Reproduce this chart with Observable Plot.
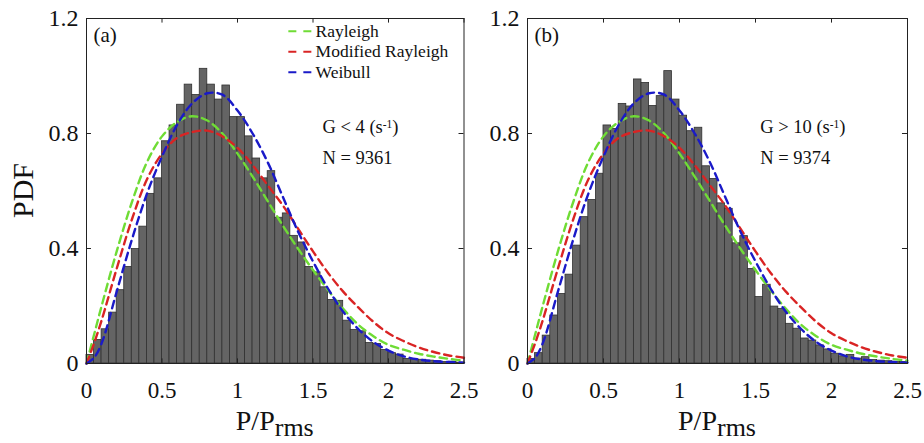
<!DOCTYPE html>
<html><head><meta charset="utf-8">
<script src="https://cdn.jsdelivr.net/npm/d3@7"></script>
<script src="https://cdn.jsdelivr.net/npm/@observablehq/plot@0.6"></script>
<style>
body{margin:0;background:#fff;}
#wrap{position:relative;width:924px;height:443px;overflow:hidden;font-family:"Liberation Serif","Times New Roman",serif;}
#wrap svg{position:absolute;top:0;}
</style></head><body><div id="wrap"></div>
<script>
// ---------- data ----------
const binWidth = 0.05;
const histA = [0.03,0.082,0.119,0.177,0.255,0.336,0.398,0.476,0.59,0.644,
  0.773,0.828,0.90,0.97,0.934,1.025,0.97,0.918,0.967,0.857,
  0.857,0.79,0.713,0.644,0.669,0.507,0.522,0.444,0.421,0.336,
  0.317,0.265,0.221,0.218,0.149,0.117,0.112,0.071,0.068,0.047,
  0.036,0.031,0.016,0.014,0.013,0.010,0.008,0.005,0.006,0.003];
const histB = [0.016,0.036,0.097,0.167,0.242,0.309,0.41,0.509,0.569,0.66,
  0.828,0.816,0.903,0.894,0.988,0.976,0.896,0.93,1.017,0.918,
  0.862,0.808,0.82,0.686,0.642,0.557,0.538,0.418,0.443,0.329,
  0.231,0.274,0.198,0.19,0.138,0.121,0.087,0.08,0.063,0.049,
  0.034,0.025,0.03,0.017,0.022,0.012,0.01,0.008,0.006,0.005];
const curveX = [0,0.05,0.1,0.2,0.3,0.4,0.5,0.6,0.7,0.8,0.9,1.0,1.1,1.2,1.3,1.4,1.5,1.6,1.7,1.8,1.9,2.0,2.1,2.2,2.3,2.4,2.5];
const rayleighA = [0,0.10,0.20,0.39,0.56,0.70,0.79,0.84,0.86,0.845,0.80,0.73,0.65,0.565,0.48,0.40,0.325,0.255,0.19,0.135,0.095,0.065,0.048,0.034,0.024,0.016,0.01];
const modRayleighA = [0,0.07,0.15,0.33,0.50,0.64,0.73,0.785,0.805,0.81,0.79,0.75,0.69,0.62,0.55,0.47,0.39,0.315,0.25,0.195,0.145,0.105,0.078,0.056,0.04,0.028,0.02];
const weibullA = [0,0.02,0.07,0.25,0.43,0.59,0.72,0.83,0.905,0.94,0.935,0.88,0.80,0.70,0.58,0.46,0.355,0.26,0.18,0.12,0.075,0.045,0.025,0.014,0.008,0.005,0.003];
const rayleighB = [0,0.10,0.20,0.39,0.56,0.70,0.79,0.84,0.86,0.845,0.80,0.73,0.65,0.565,0.48,0.40,0.325,0.255,0.19,0.135,0.095,0.065,0.048,0.034,0.024,0.016,0.01];
const modRayleighB = [0,0.07,0.15,0.33,0.50,0.64,0.73,0.785,0.805,0.81,0.79,0.75,0.69,0.62,0.55,0.47,0.39,0.315,0.25,0.195,0.145,0.105,0.078,0.056,0.04,0.028,0.02];
const weibullB = [0,0.02,0.07,0.25,0.43,0.59,0.72,0.83,0.905,0.94,0.935,0.88,0.80,0.70,0.58,0.46,0.355,0.26,0.18,0.12,0.075,0.045,0.025,0.014,0.008,0.005,0.003];
const seriesNames = ["Rayleigh","Modified Rayleigh","Weibull"];
const seriesColors = ["#6fdc35","#d92424","#1a1ac8"];
const xTicks = [0,0.5,1,1.5,2,2.5];
const xTickLabels = ["0","0.5","1","1.5","2","2.5"];
const yTicks = [0,0.4,0.8,1.2];
const yTickLabels = ["0","0.4","0.8","1.2"];
const panelLabels = ["(a)","(b)"];
const gLabels = ["G < 4 (s","G > 10 (s"];
const gSup = "-1";
const nLabels = ["N = 9361","N = 9374"];
const yTitle = "PDF";
const xTitleMain = "P/P", xTitleSub = "rms";

const FONT = '"Liberation Serif","Times New Roman",serif';
const wrap = document.getElementById("wrap");

function panel(idx, hist, series, layout) {
  const bars = hist.map((v, i) => ({x1: i * binWidth, x2: (i + 1) * binWidth, y: v}));
  const marks = [
    Plot.rectY(bars, {x1: "x1", x2: "x2", y: "y", fill: "#646464", stroke: "#303030", strokeWidth: 0.8}),
  ];
  series.forEach((vals, s) => {
    marks.push(Plot.line(curveX.map((x, i) => ({x, y: vals[i]})),
      {x: "x", y: "y", stroke: seriesColors[s], strokeWidth: 2.4, strokeDasharray: "7.5,5", curve: "catmull-rom"}));
  });
  marks.push(
    Plot.frame({stroke: "#222", strokeWidth: 1}),
    Plot.ruleX(xTicks, {x: d => d, y1: 0, y2: 0.016, stroke: "#222"}),
    Plot.ruleX(xTicks, {x: d => d, y1: 1.2, y2: 1.184, stroke: "#222"}),
    Plot.ruleY(yTicks, {y: d => d, x1: 0, x2: 0.033, stroke: "#222"}),
    Plot.ruleY(yTicks, {y: d => d, x1: 2.5, x2: 2.467, stroke: "#222"}),
    Plot.axisX(xTicks, {label: null, tickSize: 0, tickPadding: 18, fontSize: 23, tickFormat: d => xTickLabels[xTicks.indexOf(d)], fill: "#111"}),
    Plot.axisY(yTicks, {label: null, tickSize: 0, tickPadding: 8, fontSize: 24, tickFormat: d => yTickLabels[yTicks.indexOf(d)], fill: "#111"}),
    Plot.text([panelLabels[idx]], {x: 0.046, y: 1.141, text: d => d, textAnchor: "start", fontSize: 21, fill: "#111"}),
    Plot.text([gLabels[idx]], {x: layout.annX, y: 0.821, text: d => d, textAnchor: "start", fontSize: 18.5, fill: "#111"}),
    Plot.text([nLabels[idx]], {x: layout.annX, y: 0.713, text: d => d, textAnchor: "start", fontSize: 18.5, fill: "#111"})
  );
  if (layout.legend) {
    const ly = [1.156, 1.084, 1.013];
    seriesNames.forEach((name, s) => {
      marks.push(
        Plot.ruleY([name], {y: ly[s], x1: 1.340, x2: 1.495, stroke: seriesColors[s], strokeWidth: 2, strokeDasharray: "8,7"}),
        Plot.text([name], {x: 1.517, y: ly[s], text: d => d, textAnchor: "start", fontSize: 17.5, fill: "#111"})
      );
    });
  }
  const chart = Plot.plot({
    width: layout.width, height: 443,
    marginTop: 18, marginBottom: 80, marginLeft: layout.mL, marginRight: layout.mR,
    x: {domain: [0, 2.5], label: null}, y: {domain: [0, 1.2], label: null},
    style: {fontFamily: FONT, background: "transparent", overflow: "visible"},
    marks
  });
  chart.style.left = layout.left + "px";
  wrap.appendChild(chart);
  const svg = d3.select(chart);
  // superscript in the G annotation
  svg.selectAll("text").filter(function() { return this.textContent === gLabels[idx]; }).each(function() {
    const t = d3.select(this);
    t.append("tspan").attr("dy", "-0.45em").attr("font-size", "0.62em").text(gSup);
    t.append("tspan").attr("dy", "0.28em").text(")");
  });
  const xs = chart.scale("x"), ys = chart.scale("y");
  const xt = svg.append("text").attr("x", xs.apply(1.25)).attr("y", 430)
    .attr("text-anchor", "middle").attr("font-family", FONT).attr("font-size", 28).attr("fill", "#111");
  xt.append("tspan").text(xTitleMain);
  xt.append("tspan").attr("dy", 6).attr("font-size", 26).text(xTitleSub);
  if (idx === 0) {
    svg.append("text").attr("transform", `translate(33,${ys.apply(0.6)}) rotate(-90)`)
      .attr("text-anchor", "middle").attr("font-family", FONT).attr("font-size", 30).attr("fill", "#111").text(yTitle);
  }
}

panel(0, histA, [rayleighA, modRayleighA, weibullA], {left: 0, width: 470, mL: 86, mR: 6.5, annX: 1.563, legend: true});
panel(1, histB, [rayleighB, modRayleighB, weibullB], {left: 470, width: 454, mL: 57, mR: 17, annX: 1.531, legend: false});
</script></body></html>
